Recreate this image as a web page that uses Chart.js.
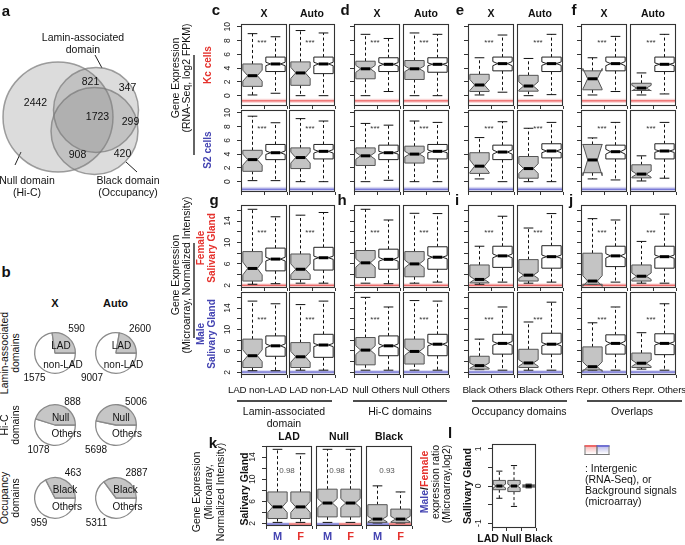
<!DOCTYPE html>
<html>
<head>
<meta charset="utf-8">
<script src="https://cdn.jsdelivr.net/npm/chart.js@4.4.1/dist/chart.umd.min.js"></script>
<style>
  body { margin: 0; background: #fff; }
  #fig { position: relative; width: 685px; height: 545px; overflow: hidden; font-family: 'Liberation Sans', Arial, sans-serif; color: #111; }
  #fig canvas { position: absolute; }
  .t { position: absolute; white-space: nowrap; transform: translate(-50%, -50%); font-size: 10.5px; line-height: 1; }
  .v { position: absolute; white-space: nowrap; transform: translate(-50%, -50%) rotate(-90deg); font-size: 10.5px; line-height: 1.1; text-align: center; }
  .b { font-weight: bold; }
  .L { position: absolute; font-weight: bold; font-size: 15px; line-height: 1; transform: translate(-50%, -50%); }
</style>
</head>
<body>
<div id="fig">
  <svg id="lines" width="685" height="545" style="position:absolute;left:0;top:0"></svg>
</div>
<script>
// a: Venn diagram of gene counts
const vennSets = ["Null domain", "Lamin-associated domain", "Black domain"];
const vennCounts = [2442, 821, 347, 1723, 299, 908, 420];

// b: genes in each domain class (domain, others)
const pieInside = [["LAD", "non-LAD"], ["Null", "Others"], ["Black", "Others"]];
const pieX = [[590, 1575], [888, 1078], [463, 959]];
const pieAuto = [[2600, 9007], [5006, 5698], [2887, 5311]];

// c-j: box stats [whiskerLo, q1, median, q3, whiskerHi], panels cX cA dX dA eX eA fX fA / gX gA hX hA iX iA jX jA
const groupCats = [["LAD", "non-LAD"], ["Null", "Others"], ["Black", "Others"], ["Repr.", "Others"]];
const chromCols = ["X", "Auto"];

const kcStats = [
  [[0.1, 1.35, 2.9, 4.6, 9.0], [0.35, 3.5, 4.6, 5.6, 8.55]],
  [[0, 1.5, 3.3, 4.9, 9.45], [0, 3.2, 4.6, 5.6, 9.1]],
  [[0, 2.45, 3.9, 5.0, 8.9], [0.6, 3.5, 4.55, 5.5, 8.3]],
  [[0, 2.35, 3.9, 5.1, 9.1], [0, 3.4, 4.55, 5.5, 8.9]],
  [[0.1, 0.6, 1.55, 3.1, 5.5], [0.5, 3.6, 4.65, 5.6, 8.8]],
  [[0, 0.65, 1.4, 2.95, 5.4], [0.15, 3.5, 4.65, 5.6, 8.9]],
  [[0.1, 0.85, 2.45, 3.6, 5.5], [0.6, 3.6, 4.65, 5.6, 8.6]],
  [[0.1, 0.75, 1.1, 1.8, 3.3], [0.25, 3.5, 4.55, 5.6, 8.9]]
];
const kcNotch = [[0.8, 0.25], [0.8, 0.25], [0.5, 0.25], [0.4, 0.2], [0.8, 0.3], [0.6, 0.25], [1.5, 0.3], [0.4, 0.2]];

const s2Stats = [
  [[0.15, 1.5, 3.2, 4.55, 9.5], [0.15, 3.2, 4.2, 5.4, 8.55]],
  [[0, 1.9, 3.5, 4.9, 9.15], [0, 3.3, 4.4, 5.4, 8.8]],
  [[0, 2.35, 3.75, 4.9, 8.45], [0.2, 3.2, 4.2, 5.3, 8.2]],
  [[0, 2.7, 4.0, 5.15, 8.8], [0, 3.3, 4.4, 5.4, 8.6]],
  [[0.4, 1.2, 2.25, 4.2, 6.4], [0, 3.2, 4.3, 5.3, 8.7]],
  [[0, 0.5, 1.9, 3.65, 7.75], [0, 3.45, 4.45, 5.5, 8.6]],
  [[0.4, 1.3, 3.15, 5.4, 6.35], [0.25, 3.3, 4.35, 5.3, 8.6]],
  [[0.1, 0.55, 1.1, 2.45, 3.75], [0.5, 3.3, 4.45, 5.5, 8.6]]
];
const s2Notch = [[0.8, 0.25], [0.8, 0.25], [0.5, 0.2], [0.4, 0.2], [0.9, 0.3], [0.7, 0.25], [2.3, 0.35], [0.45, 0.2]];

const femaleStats = [
  [[2.2, 2.8, 5.15, 8.3, 16.2], [2.3, 4.7, 6.9, 8.95, 14.8]],
  [[2.4, 3.1, 5.0, 7.85, 15.1], [2.4, 4.85, 7.15, 9.1, 15.6]],
  [[2.4, 3.45, 6.2, 8.5, 16.2], [2.3, 5.0, 6.85, 8.75, 14.2]],
  [[2.4, 3.6, 6.0, 8.3, 15.45], [2.6, 5.0, 7.25, 9.2, 15.4]],
  [[2.2, 2.45, 3.1, 5.8, 9.3], [2.6, 5.35, 7.5, 9.3, 14.9]],
  [[2.4, 2.8, 3.9, 6.8, 12.7], [2.6, 5.2, 7.35, 9.4, 15.4]],
  [[2.2, 2.2, 2.8, 8.0, 14.45], [2.6, 5.5, 7.5, 9.3, 14.2]],
  [[2.4, 2.8, 3.7, 5.8, 10.2], [2.4, 5.2, 7.35, 9.3, 15.3]]
];
const femaleNotch = [[1.2, 0.35], [1.0, 0.3], [0.8, 0.35], [0.7, 0.3], [0.6, 0.35], [0.6, 0.3], [1.0, 0.4], [0.6, 0.3]];

const maleStats = [
  [[2.3, 2.9, 5.1, 8.2, 15.3], [2.3, 5.0, 6.95, 8.8, 14.8]],
  [[2.4, 2.9, 4.9, 7.55, 14.65], [2.4, 4.8, 7.1, 9.1, 15.3]],
  [[2.4, 3.4, 6.15, 8.5, 16.0], [2.4, 5.1, 6.95, 8.8, 14.2]],
  [[2.4, 3.55, 5.9, 8.2, 15.4], [2.4, 5.1, 7.25, 9.1, 15.3]],
  [[2.5, 2.6, 3.25, 5.0, 8.2], [2.4, 5.4, 7.4, 9.1, 14.2]],
  [[2.4, 2.9, 3.75, 6.3, 11.4], [2.4, 5.4, 7.25, 9.3, 15.1]],
  [[2.4, 2.45, 3.05, 6.75, 11.25], [2.4, 5.4, 7.4, 9.0, 14.2]],
  [[2.6, 2.9, 3.7, 5.6, 9.4], [2.4, 5.3, 7.4, 9.2, 14.8]]
];
const maleNotch = [[1.1, 0.35], [1.0, 0.3], [0.8, 0.35], [0.7, 0.3], [0.5, 0.35], [0.6, 0.3], [0.9, 0.4], [0.6, 0.3]];

// k: salivary gland, male vs female
const kDomains = ["LAD", "Null", "Black"];
const kSex = ["M", "F"];
const kStats = [
  [[2.2, 2.9, 5.0, 7.7, 15.4], [2.2, 2.9, 5.0, 7.7, 14.6]],
  [[2.2, 3.2, 5.7, 8.2, 15.4], [2.2, 3.2, 5.7, 8.2, 15.4]],
  [[2.1, 2.2, 2.8, 5.4, 8.8], [2.1, 2.2, 2.8, 4.6, 7.7]]
];
const kNotch = [[1.0, 1.0], [0.8, 0.8], [0.5, 0.5]];
const kPValues = ["0.98", "0.98", "0.93"];

// l: male/female ratio
const lCats = ["LAD", "Null", "Black"];
const lStats = [[-0.33, -0.1, 0, 0.15, 0.4], [-0.55, -0.15, 0, 0.15, 0.55], [-0.05, -0.03, 0, 0.03, 0.05]];
const lNotch = [0.05, 0.05, 0.02];

// tick labels
const rnaTickLabels = [0, 2, 4, 6, 8, 10];
const arrayTickLabels = [2, 6, 10, 14];
const ratioTickLabels = [-1, 0, 1];

const fig = document.getElementById("fig");
const svg = document.getElementById("lines");
const FONT = "'Liberation Sans', Arial, sans-serif";
const RED = "#e5322d";
const BLUE = "#4444b2";
const RED_RGB = "232,70,70";
const BLUE_RGB = "80,80,200";

function addCanvas(left, top, w, h) {
  const c = document.createElement("canvas");
  c.width = w;
  c.height = h;
  c.style.left = left + "px";
  c.style.top = top + "px";
  c.style.width = w + "px";
  c.style.height = h + "px";
  fig.appendChild(c);
  return c.getContext("2d");
}

function text(str, x, y, css = "", cls = "t") {
  const d = document.createElement("div");
  d.className = cls;
  d.style.cssText = `left:${x}px;top:${y}px;${css}`;
  d.innerHTML = str;
  fig.appendChild(d);
}
function vtext(str, x, y, css = "") {
  text(str, x, y, css, "v");
}
function letter(ch, x, y) {
  text(ch, x, y, "", "L");
}
function line(x1, y1, x2, y2, color = "#111", w = 1.3) {
  const l = document.createElementNS("http://www.w3.org/2000/svg", "line");
  l.setAttribute("x1", x1); l.setAttribute("y1", y1);
  l.setAttribute("x2", x2); l.setAttribute("y2", y2);
  l.setAttribute("stroke", color); l.setAttribute("stroke-width", w);
  svg.appendChild(l);
}

// draws notched boxes, whiskers, background band, frame and rotated y labels
function boxPlugin(spec) {
  return {
    id: "boxes",
    beforeDatasetsDraw(chart) {
      if (!spec.band) return;
      const { ctx, chartArea: a, scales: { x, y } } = chart;
      const cw = a.width / spec.cats.length;
      const yt = y.getPixelForValue(spec.band[1]);
      const yb = y.getPixelForValue(spec.band[0]);
      const ym = (yt + yb) / 2;
      ctx.save();
      spec.bandColors.forEach((c, i) => {
        const x0 = x.getPixelForValue(i) - cw / 2;
        ctx.fillStyle = `rgba(${c},0.22)`;
        ctx.fillRect(x0, yt, cw, yb - yt);
        ctx.strokeStyle = `rgba(${c},0.75)`;
        ctx.lineWidth = 1.4;
        ctx.beginPath();
        ctx.moveTo(x0, ym);
        ctx.lineTo(x0 + cw, ym);
        ctx.stroke();
      });
      ctx.restore();
    },
    afterDatasetsDraw(chart) {
      const { ctx, chartArea: a, scales: { y } } = chart;
      const meta = chart.getDatasetMeta(0);
      ctx.save();
      spec.stats.forEach((s, i) => {
        const el = meta.data[i];
        const cx = el.x;
        const w = el.width / 2;
        const [lo, q1, md, q3, hi] = s.map((v) => y.getPixelForValue(v));
        const nLo = y.getPixelForValue(s[2] - spec.notch[i]);
        const nHi = y.getPixelForValue(s[2] + spec.notch[i]);
        ctx.strokeStyle = "#111";
        ctx.lineWidth = 1;
        ctx.setLineDash([3, 2.5]);
        ctx.beginPath();
        ctx.moveTo(cx, q3); ctx.lineTo(cx, hi);
        ctx.moveTo(cx, q1); ctx.lineTo(cx, lo);
        ctx.stroke();
        ctx.setLineDash([]);
        ctx.beginPath();
        ctx.moveTo(cx - w / 2, hi); ctx.lineTo(cx + w / 2, hi);
        ctx.moveTo(cx - w / 2, lo); ctx.lineTo(cx + w / 2, lo);
        ctx.stroke();

        ctx.beginPath();
        ctx.moveTo(cx - w, q1);
        ctx.lineTo(cx + w, q1);
        ctx.lineTo(cx + w, nLo);
        ctx.lineTo(cx + w / 2, md);
        ctx.lineTo(cx + w, nHi);
        ctx.lineTo(cx + w, q3);
        ctx.lineTo(cx - w, q3);
        ctx.lineTo(cx - w, nHi);
        ctx.lineTo(cx - w / 2, md);
        ctx.lineTo(cx - w, nLo);
        ctx.closePath();
        ctx.fillStyle = spec.fills[i];
        ctx.fill();
        ctx.strokeStyle = spec.fills[i] === "#fff" ? "#222" : "#555";
        ctx.lineWidth = 1;
        ctx.stroke();

        ctx.strokeStyle = "#000";
        ctx.lineWidth = 3;
        ctx.beginPath();
        ctx.moveTo(cx - w / 2, md);
        ctx.lineTo(cx + w / 2, md);
        ctx.stroke();
      });
      if (spec.note) {
        ctx.fillStyle = spec.noteColor;
        ctx.font = `8px ${FONT}`;
        ctx.textAlign = "center";
        ctx.textBaseline = "middle";
        ctx.fillText(spec.note, a.left + a.width / 2 - 2, y.getPixelForValue(spec.noteY));
      }
      ctx.strokeStyle = "#333";
      ctx.lineWidth = 1.1;
      ctx.strokeRect(Math.round(a.left) + 0.5, Math.round(a.top) + 0.5, Math.round(a.width) - 1, Math.round(a.height) - 1);
      if (spec.yLabels) {
        ctx.fillStyle = "#222";
        ctx.font = `8.5px ${FONT}`;
        ctx.textAlign = "center";
        ctx.textBaseline = "middle";
        y.ticks.forEach((t) => {
          if (!spec.tickLabels.includes(t.value)) return;
          ctx.save();
          ctx.translate(a.left - 13, y.getPixelForValue(t.value));
          ctx.rotate(-Math.PI / 2);
          ctx.fillText(String(t.value), 0, 0);
          ctx.restore();
        });
      }
      ctx.restore();
    }
  };
}

function addBoxPanel(spec) {
  const L = 22, T = 8, R = 16;
  const B = spec.xLabels ? 28 : 6;
  const W = spec.w + L + R;
  const H = spec.h + T + B;
  const ctx = addCanvas(spec.left - L, spec.top - T, W, H);
  spec.fills = spec.fills || ["#c4c4c4", "#fff"];
  new Chart(ctx, {
    type: "bar",
    data: {
      labels: spec.cats,
      datasets: [{
        data: spec.stats.map((s) => [s[1], s[3]]),
        backgroundColor: "rgba(0,0,0,0)",
        borderWidth: 0,
        barPercentage: 0.84,
        categoryPercentage: 1
      }]
    },
    options: {
      responsive: false,
      animation: false,
      devicePixelRatio: 1,
      events: [],
      layout: { padding: { top: T, right: R, left: 0, bottom: 0 } },
      plugins: { legend: { display: false }, tooltip: { enabled: false } },
      scales: {
        x: {
          offset: true,
          border: { display: false },
          grid: { display: true, drawOnChartArea: false, drawTicks: true, tickLength: 3, color: "#333" },
          ticks: {
            display: !!spec.xLabels,
            autoSkip: false,
            maxRotation: 0,
            padding: spec.xPad || 5,
            color: spec.xColors || "#111",
            font: { family: FONT, size: spec.xSize || 10.5, weight: spec.xBold ? "bold" : "normal" }
          },
          afterFit: (s) => { s.height = B; }
        },
        y: {
          min: spec.yMin,
          max: spec.yMax,
          border: { display: false },
          grid: { display: spec.showY, drawOnChartArea: false, drawTicks: true, tickLength: 4, color: "#333" },
          ticks: {
            display: false,
            stepSize: spec.step,
            includeBounds: false,
            autoSkip: false
          },
          afterFit: (s) => { s.width = L; }
        }
      }
    },
    plugins: [boxPlugin(spec)]
  });
}

// ---- panel a: Venn (bubble radii are in pixels; the layout reserves the largest radius as padding)
const vennLayout = [[57.5, 116.5, 55], [95.5, 109.5, 42.5], [94, 130.5, 43.5]];
const vennSpots = [[35, 103], [90, 82], [127, 88], [97, 117], [130, 122], [77, 155], [122, 154]];
const vennBorder = 1.5;
const vennPad = Math.max(...vennLayout.map((c) => c[2])) + vennBorder;
new Chart(addCanvas(-vennPad, 20 - vennPad, 170 + 2 * vennPad, 185 + 2 * vennPad), {
  type: "bubble",
  data: {
    datasets: [{
      label: vennSets.join(" / "),
      data: vennLayout.map((c) => ({ x: c[0], y: c[1], r: c[2] })),
      backgroundColor: "rgba(125,125,125,0.27)",
      borderColor: "rgba(120,120,120,0.7)",
      borderWidth: vennBorder,
      clip: false
    }]
  },
  options: {
    responsive: false,
    animation: false,
    devicePixelRatio: 1,
    events: [],
    layout: { padding: 0 },
    plugins: { legend: { display: false }, tooltip: { enabled: false } },
    scales: {
      x: { display: false, min: 0, max: 170 },
      y: { display: false, min: 20, max: 205, reverse: true }
    }
  },
  plugins: [{
    id: "vennLabels",
    afterDatasetsDraw(chart) {
      const { ctx, scales: { x, y } } = chart;
      ctx.save();
      ctx.font = `10.5px ${FONT}`;
      ctx.fillStyle = "#111";
      ctx.textAlign = "center";
      ctx.textBaseline = "middle";
      vennCounts.forEach((n, i) => ctx.fillText(String(n), x.getPixelForValue(vennSpots[i][0]), y.getPixelForValue(vennSpots[i][1])));
      ctx.restore();
    }
  }]
});
letter("a", 6, 10);
text("Lamin-associated", 83, 37);
text("domain", 83, 49);
text("Null domain", 27, 180);
text("(Hi-C)", 27, 192);
text("Black domain", 128, 180);
text("(Occupancy)", 128, 192);
line(95, 55, 102, 68, "#222", 1);
line(15, 165, 21, 152, "#222", 1);
line(137, 172, 126, 162, "#222", 1);

// ---- panel b: pies
letter("b", 6, 271);
text("X", 55, 303, "font-size:11px", "t b");
text("Auto", 115.5, 303, "font-size:11px", "t b");
const pieRowY = [352.5, 425, 497.5];
const pieColX = [55, 115.5];
const pieRowNames = [["Lamin-associated", "domains"], ["Hi-C", "domains"], ["Occupancy", "domains"]];
const pieNameOffsets = [[[6, -6.5], [8, 12.5]], [[5.5, -7], [11.5, 9]], [[10, -7.5], [12, 9.5]]];
const pieCountOffsets = [[[21.5, -23.5], [-20.5, 25.5]], [[17.5, -23], [-16.5, 25]], [[18, -24.5], [-16, 25.5]]];
pieRowY.forEach((cy, r) => {
  vtext(pieRowNames[r][0], 5, cy);
  vtext(pieRowNames[r][1], 16, cy);
  [pieX[r], pieAuto[r]].forEach((vals, c) => {
    const cx = pieColX[c];
    new Chart(addCanvas(cx - 23, cy - 23, 46, 46), {
      type: "pie",
      data: {
        labels: [pieInside[r][1], pieInside[r][0]],
        datasets: [{
          data: [vals[1], vals[0]],
          backgroundColor: ["#fff", "#c6c6c6"],
          borderColor: "#8a8a8a",
          borderWidth: 1.3
        }]
      },
      options: {
        responsive: false,
        animation: false,
        devicePixelRatio: 1,
        events: [],
        rotation: 90,
        layout: { padding: 2 },
        plugins: { legend: { display: false }, tooltip: { enabled: false } }
      }
    });
    const no = pieNameOffsets[r];
    const co = pieCountOffsets[r];
    const extra = c === 1 ? 3 : 0;
    text(pieInside[r][0], cx + no[0][0], cy + no[0][1], "font-size:10px");
    text(pieInside[r][1], cx + no[1][0], cy + no[1][1], "font-size:10px");
    text(String(vals[0]), cx + co[0][0] + extra, cy + co[0][1], "font-size:10px");
    text(String(vals[1]), cx + co[1][0] - extra, cy + co[1][1], "font-size:10px");
  });
});

// ---- panels c-j
const panelLefts = [241, 289, 354, 403, 468, 517, 581, 630];
const groupLetters = ["c", "d", "e", "f"];
const arrayLetters = ["g", "h", "i", "j"];
groupLetters.forEach((g, i) => {
  letter(g, [216, 345, 460, 574][i], 9);
  letter(arrayLetters[i], [214, 342, 457, 571][i], 199);
});
panelLefts.forEach((left, p) => {
  text(chromCols[p % 2], left + 23, 13, "font-size:10.5px", "t b");
});

const rnaRows = [
  { stats: kcStats, notch: kcNotch, top: 24, h: 82, band: [-1.05, -0.45], color: RED_RGB },
  { stats: s2Stats, notch: s2Notch, top: 110, h: 82, band: [-1.45, -0.75], color: BLUE_RGB }
];
const arrayRows = [
  { stats: femaleStats, notch: femaleNotch, top: 205, h: 83, band: [1.65, 2.35], color: RED_RGB },
  { stats: maleStats, notch: maleNotch, top: 292, h: 83, band: [1.7, 2.4], color: BLUE_RGB }
];
rnaRows.forEach((row) => {
  panelLefts.forEach((left, p) => {
    addBoxPanel({
      left, top: row.top, w: 46, h: row.h,
      cats: groupCats[Math.floor(p / 2)],
      stats: row.stats[p], notch: row.notch[p],
      yMin: -1.5, yMax: 10.4, step: 2, tickLabels: rnaTickLabels,
      showY: p % 2 === 0, yLabels: p === 0,
      band: row.band, bandColors: [row.color, row.color],
      note: "***", noteY: 7.6, noteColor: "#333"
    });
  });
});
arrayRows.forEach((row) => {
  panelLefts.forEach((left, p) => {
    addBoxPanel({
      left, top: row.top, w: 46, h: row.h,
      cats: groupCats[Math.floor(p / 2)],
      stats: row.stats[p], notch: row.notch[p],
      yMin: 1.5, yMax: 17, step: 2, tickLabels: arrayTickLabels,
      showY: p % 2 === 0, yLabels: p === 0,
      band: row.band, bandColors: [row.color, row.color],
      note: "***", noteY: 11.8, noteColor: "#333"
    });
  });
});

// category names under the bottom row, one string per group as in the original
const groupCenters = [288, 401, 518, 631];
groupCats.forEach((cats, g) => {
  text(cats.concat(cats).join(" "), groupCenters[g], 390, "font-size:9.8px;letter-spacing:-0.15px");
});

// axis titles for c-j
vtext("Gene Expression", 176, 78);
vtext("(RNA-Seq, log2 FPKM)", 187, 78);
line(194, 55, 194, 155, "#111", 1.3);
vtext("Kc cells", 207, 65, `color:${RED};font-weight:bold;font-size:10px`);
vtext("S2 cells", 207, 150, `color:${BLUE};font-weight:bold;font-size:10px`);
vtext("Gene Expression", 176, 275);
vtext("(Microarray, Normalized Intensity)", 187, 275);
line(194, 243, 194, 338, "#111", 1.3);
vtext("Female<br>Salivary Gland", 206, 248, `color:${RED};font-weight:bold;font-size:10px`);
vtext("Male<br>Salivary Gland", 206, 334, `color:${BLUE};font-weight:bold;font-size:10px`);

// group captions
line(237, 401, 332, 401, "#111", 1.5);
line(353, 401, 447, 401, "#111", 1.5);
line(472, 401, 567, 401, "#111", 1.5);
line(587, 401, 682, 401, "#111", 1.5);
text("Lamin-associated", 284, 411);
text("domain", 284, 423);
text("Hi-C domains", 400, 411);
text("Occupancy domains", 519, 411);
text("Overlaps", 632, 411);

// ---- panel k
letter("k", 213, 442);
const kLefts = [266, 316, 366];
kLefts.forEach((left, d) => {
  text(kDomains[d], left + 23, 436, "font-size:10.5px", "t b");
  addBoxPanel({
    left, top: 446, w: 46, h: 80,
    cats: kSex, stats: kStats[d], notch: kNotch[d],
    fills: ["#c4c4c4", "#c4c4c4"],
    yMin: 1.55, yMax: 16, step: 2, tickLabels: arrayTickLabels,
    showY: d === 0, yLabels: d === 0,
    band: [1.6, 2.2], bandColors: [BLUE_RGB, RED_RGB],
    note: kPValues[d], noteY: 11.5, noteColor: "#555",
    xLabels: true, xColors: [BLUE, RED], xBold: true, xSize: 11, xPad: 1
  });
});
vtext("Gene Expression", 197, 492);
vtext("(Microarray,<br>Normalized Intensity)", 215, 492);
vtext("Salivary Gland", 245, 489, "font-weight:bold;font-size:10.5px");

// ---- panel l
letter("l", 450, 432);
addBoxPanel({
  left: 492, top: 444, w: 44, h: 84,
  cats: lCats, stats: lStats, notch: lNotch,
  fills: ["#c4c4c4", "#c4c4c4", "#c4c4c4"],
  yMin: -1.13, yMax: 1.13, step: 0.5, tickLabels: ratioTickLabels,
  showY: true, yLabels: true
});
text(lCats.join(" "), 515, 538, "font-size:10.5px", "t b");
vtext(`<span style="color:${BLUE}">Male</span>/<span style="color:${RED}">Female</span>`, 425, 482, "font-weight:bold");
vtext("expression ratio", 436, 482);
vtext("(Microarray,log2)", 447, 484);
vtext("Sallivary Gland", 468, 486, "font-weight:bold;font-size:10.5px");

// legend for background bands
text("", 591, 450, `width:11px;height:7px;border:1px solid #777;border-top:2px solid rgba(${RED_RGB},0.8);background:linear-gradient(rgba(${RED_RGB},0.35),#fff)`);
text("", 603, 450, `width:11px;height:7px;border:1px solid #777;border-top:2px solid rgba(${BLUE_RGB},0.8);background:linear-gradient(rgba(${BLUE_RGB},0.35),#fff)`);
const legendLines = [": Intergenic", "(RNA-Seq), or", "Background signals", "(microarray)"];
legendLines.forEach((s, i) => {
  text(s, 585, 468 + i * 11, "transform:translate(0,-50%);font-size:10.5px");
});
</script>
</body>
</html>
